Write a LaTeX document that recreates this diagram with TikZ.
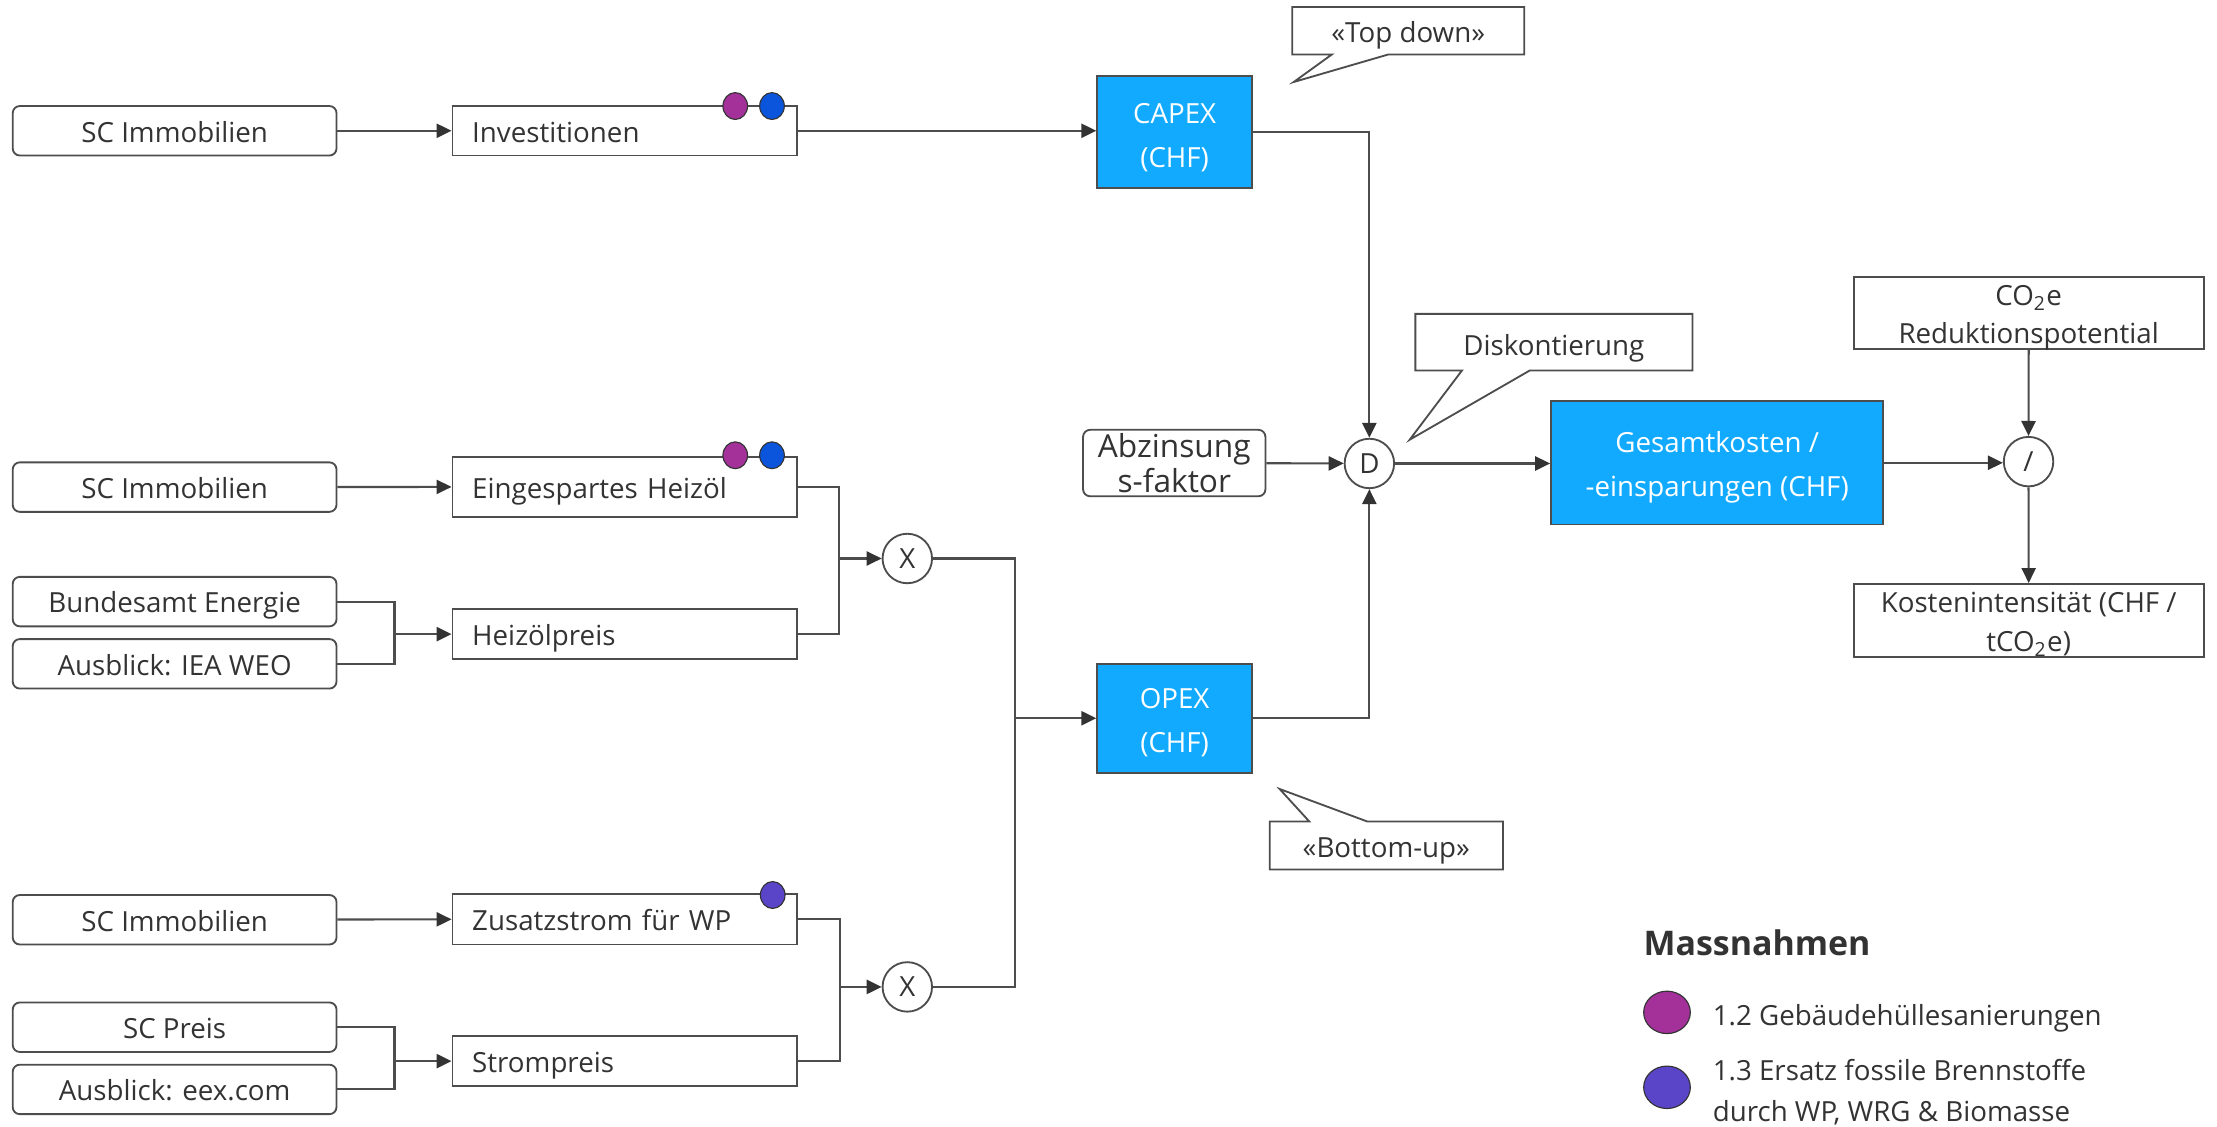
\documentclass[tikz,border=0pt]{standalone}
\usepackage{fontspec}
\setmainfont{Open Sans}
\usetikzlibrary{arrows.meta,shapes.geometric}
\definecolor{txt}{HTML}{333333}
\definecolor{lncol}{HTML}{4D4D4D}
\definecolor{bx}{HTML}{12AAFF}
\definecolor{pur}{HTML}{A33199}
\definecolor{blu}{HTML}{0A55DC}
\definecolor{ind}{HTML}{5A45C8}
\begin{document}
\begin{tikzpicture}[x=0.5pt,y=-0.5pt,
  font=\fontsize{9.8pt}{15pt}\selectfont, text=txt,
  src/.style={draw=lncol, line width=0.65pt, rounded corners=2.5pt, minimum width=114.5pt, minimum height=17.5pt, inner sep=0pt, text height=10.5pt, text depth=2.5pt, align=center},
  mid/.style={draw=lncol, line width=0.65pt, minimum height=17.5pt, text width=107.75pt, inner xsep=7pt, inner ysep=0pt, text height=10.5pt, text depth=2.5pt, align=left},
  bluebox/.style={draw=lncol, line width=0.65pt, fill=bx, inner sep=0pt},
  bluetext/.style={text=white, inner sep=0pt, align=center, font=\fontsize{9.8pt}{15.5pt}\selectfont},
  op/.style={circle, draw=lncol, line width=0.65pt, minimum size=17.5pt, inner sep=0pt},
  wbox/.style={draw=lncol, line width=0.65pt, inner sep=0pt, minimum width=123.8pt, minimum height=25.5pt},
  conn/.style={draw=lncol, line width=0.75pt},
  arr/.style={draw=lncol, line width=0.75pt, -{Triangle[length=5.3pt,width=5pt,color=txt]}},
  dotm/.style={ellipse, draw=txt, line width=0.4pt, minimum width=8.7pt, minimum height=9.5pt, inner sep=0pt},
  legdot/.style={ellipse, draw=txt, line width=0.4pt, minimum width=16.5pt, minimum height=15pt, inner sep=0pt},
  callout/.style={draw=lncol, line width=0.65pt, fill=white}
]
\useasboundingbox (0,0) rectangle (1568,797);
\fill[white] (0,0) rectangle (1568,797);

% left sources
\node[src] (sc1) at (123.5,92.5) {SC Immobilien};
\node[src] (sc2) at (123.5,344.5) {SC Immobilien};
\node[src] (bund) at (123.5,425.5) {Bundesamt Energie};
\node[src] (iea) at (123.5,469.5) {Ausblick: IEA WEO};
\node[src] (sc3) at (123.5,650.5) {SC Immobilien};
\node[src] (scp) at (123.5,726.5) {SC Preis};
\node[src] (eex) at (123.5,770.5) {Ausblick: eex.com};

% middle boxes
\node[mid] (inv) at (441.75,92.5) {Investitionen};
\node[mid, minimum height=21.3pt] (eing) at (441.75,344.3) {Eingespartes Heizöl};
\node[mid] (heiz) at (441.75,448.5) {Heizölpreis};
\node[mid, minimum height=18pt] (zus) at (441.75,650) {Zusatzstrom für WP};
\node[mid] (strom) at (441.75,750.5) {Strompreis};

% dots
\node[dotm, fill=pur] (dp1) at (520,75) {};
\node[dotm, fill=blu] (db1) at (546,75) {};
\node[dotm, fill=pur] (dp2) at (520,322) {};
\node[dotm, fill=blu] (db2) at (546,322) {};
\node[dotm, fill=ind] (di3) at (546.5,633) {};

% operators
\node[op] (x1) at (641.7,395) {X};
\node[op] (x2) at (641.7,698) {X};
\node[op] (D) at (968.5,327.8) {D};
\node[op] (slash) at (1434.7,326.5) {/};

% blue boxes
\node[bluebox, minimum width=54.75pt, minimum height=39.5pt] (capex) at (830.75,93.5) {};
\node[bluetext] (capext) at ([yshift=-2pt]capex.center) {CAPEX\\(CHF)};
\node[bluebox, minimum width=54.75pt, minimum height=38.5pt] (opex) at (830.75,508) {};
\node[bluetext] (opext) at ([yshift=-1.5pt]opex.center) {OPEX\\(CHF)};
\node[bluebox, minimum width=117.5pt, minimum height=43.7pt] (gesamt) at (1214.5,327.3) {};
\node[bluetext] (gesamtt) at ([yshift=-1.5pt]gesamt.center) {Gesamtkosten /\\-einsparungen (CHF)};

\node[draw=lncol, line width=0.65pt, rounded corners=2.5pt, minimum width=64.5pt, minimum height=23.5pt, inner sep=0pt, align=center, font=\fontsize{11.2pt}{12.5pt}\selectfont] (abz) at (830.5,327.5) {Abzinsung\\s-faktor};

\node[wbox] (co2) at (1434.8,221.5) {};
\node[align=center, inner sep=0pt, font=\fontsize{9.8pt}{13.5pt}\selectfont] (co2t) at ([yshift=-1.75pt]co2.center) {CO\textsubscript{2}e\\Reduktionspotential};
\node[wbox, minimum height=25.8pt] (kosten) at (1434.8,438.8) {};
\node[align=center, inner sep=0pt, font=\fontsize{9.8pt}{14pt}\selectfont] (kostent) at ([yshift=-1.25pt]kosten.center) {Kostenintensität (CHF /\\tCO\textsubscript{2}e)};

% coordinates for merges
\coordinate (m1) at (279,448.5);
\coordinate (m2) at (593.6,395);
\coordinate (m3) at (594,698);
\coordinate (m4) at (279,750.5);
\coordinate (m5) at (718,508);

% connectors
\draw[arr] (sc1) -- (inv);
\draw[arr] (inv.east) -- (inv.east -| capex.west);
\draw[arr] (sc2) -- (eing);
\draw[conn] (bund.east) -| (m1) |- (iea.east);
\draw[arr] (m1) -- (heiz.west);
\draw[conn] (eing.east) -| (m2) |- (heiz.east);
\draw[arr] (m2) -- (x1.west);
\draw[arr] (sc3) -- (zus);
\draw[conn] (scp.east) -| (m4) |- (eex.east);
\draw[arr] (m4) -- (strom.west);
\draw[conn] (zus.east) -| (m3) |- (strom.east);
\draw[arr] (m3) -- (x2.west);
\draw[conn] (x1.east) -| (m5) |- (x2.east);
\draw[arr] (m5) -- (opex.west);
\draw[arr] (capex.east) -| (D.north);
\draw[arr] (opex.east) -| (D.south);
\draw[arr] (abz) -- (D);
\draw[arr] (D) -- (D -| gesamt.west);
\draw[arr] (gesamt.east) -- (gesamt.east -| slash.west);
\draw[arr] (co2.south) -- (slash.north);
\draw[arr] (slash.south) -- (kosten.north);

% callouts
\draw[callout] (914,5) -- (1078,5) -- (1078,38.5) -- (982,38.5) -- (915,58) -- (942,38.5) -- (914,38.5) -- cycle;
\node (td) at (996,25) {«Top down»};
\draw[callout] (1001,222) -- (1197,222) -- (1197,262) -- (1082,262) -- (997,311) -- (1034,262) -- (1001,262) -- cycle;
\node (disk) at (1099,246) {Diskontierung};
\draw[callout] (898,581) -- (926,581) -- (905,558) -- (967,581) -- (1063,581) -- (1063,615) -- (898,615) -- cycle;
\node (bu) at (980.5,602) {«Bottom-up»};

% legend
\node[anchor=west, inner sep=0pt, font=\fontsize{12pt}{14pt}\selectfont\bfseries] (leg) at (1162,667) {Massnahmen};
\node[legdot, fill=pur] (lp) at (1179,716) {};
\node[anchor=west, inner sep=0pt] (lt1) at (1211,720) {1.2 Gebäudehüllesanierungen};
\node[legdot, fill=ind] (li) at (1179,769) {};
\node[anchor=west, inner sep=0pt, align=left, font=\fontsize{9.8pt}{14.5pt}\selectfont] (lt2) at (1211,772.5) {1.3 Ersatz fossile Brennstoffe\\durch WP, WRG \& Biomasse};
\end{tikzpicture}
\end{document}
